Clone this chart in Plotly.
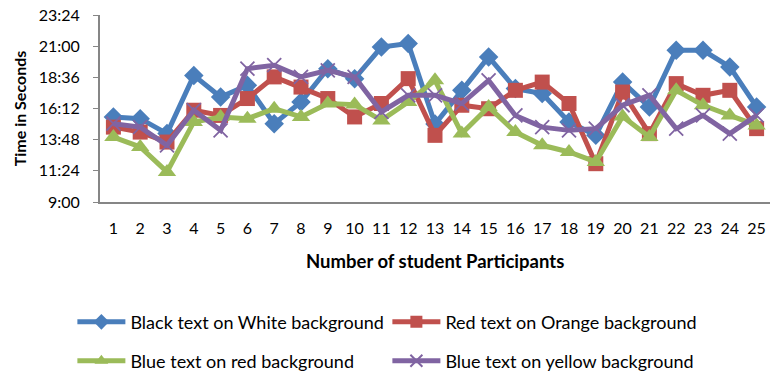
import plotly.graph_objects as go

# Reading times per participant, stored as "minutes:seconds"
participants = list(range(1, 26))

black_on_white = ["15:33", "15:25", "14:16", "18:45", "17:05", "17:59", "15:02", "16:42", "19:16", "18:30",
                  "20:56", "21:12", "15:00", "17:36", "20:10", "17:44", "17:21", "15:10", "14:08", "18:14",
                  "16:19", "20:41", "20:41", "19:24", "16:19"]
red_on_orange = ["14:46", "14:23", "13:37", "16:04", "15:40", "16:58", "18:38", "17:51", "16:58", "15:33",
                 "16:35", "18:30", "14:08", "16:27", "16:11", "17:36", "18:14", "16:35", "11:57", "17:28",
                 "14:16", "18:07", "17:13", "17:36", "14:39"]
blue_on_red = ["14:00", "13:14", "11:19", "15:10", "15:33", "15:25", "16:11", "15:33", "16:35", "16:30",
               "15:17", "16:42", "18:22", "14:16", "16:19", "14:23", "13:22", "12:51", "12:05", "15:35",
               "14:00", "17:36", "16:27", "15:40", "14:54"]
blue_on_yellow = ["15:02", "14:46", "13:22", "16:04", "14:31", "19:16", "19:32", "18:38", "19:08", "18:38",
                  "15:56", "17:13", "17:13", "16:35", "18:22", "15:40", "14:46", "14:31", "14:39", "16:27",
                  "17:13", "14:39", "15:40", "14:16", "15:40"]

series_names = ["Black text on White background", "Red text on Orange background",
                "Blue text on red background", "Blue text on yellow background"]

tick_labels = ["9:00", "11:24", "13:48", "16:12", "18:36", "21:00", "23:24"]


def to_seconds(t):
    m, s = t.split(":")
    return int(m) * 60 + int(s)


tick_vals = [to_seconds(t) for t in tick_labels]

styles = [
    dict(color="#4A7EBB", symbol="diamond", size=15, legend="legend"),
    dict(color="#C0504D", symbol="square", size=15, legend="legend"),
    dict(color="#9BBB59", symbol="triangle-up", size=16, legend="legend2"),
    dict(color="#8064A2", symbol="x-thin-open", size=14, legend="legend2"),
]

fig = go.Figure()
for name, values, st in zip(series_names,
                            [black_on_white, red_on_orange, blue_on_red, blue_on_yellow],
                            styles):
    marker = dict(symbol=st["symbol"], size=st["size"], color=st["color"])
    if st["symbol"] == "x-thin-open":
        marker["line"] = dict(color="#8F78B5", width=1.8)
    fig.add_trace(go.Scatter(
        x=participants,
        y=[to_seconds(v) for v in values],
        mode="lines+markers",
        name=name,
        line=dict(color=st["color"], width=5),
        marker=marker,
        legend=st["legend"],
    ))

font_family = "Lato, Liberation Sans, sans-serif"
legend_common = dict(
    orientation="h",
    xref="container",
    yref="container",
    xanchor="left",
    yanchor="middle",
    x=0.094,
    entrywidth=252,
    entrywidthmode="pixels",
    itemwidth=48,
    itemsizing="constant",
    font=dict(family=font_family, size=18, color="#000000"),
    bgcolor="rgba(0,0,0,0)",
    itemclick=False,
)

fig.update_layout(
    width=770,
    height=375,
    margin=dict(l=100, r=0, t=15, b=173, autoexpand=False),
    paper_bgcolor="white",
    plot_bgcolor="white",
    font=dict(family=font_family, size=15, color="#000000"),
    showlegend=True,
    legend=dict(**legend_common, y=0.141),
    legend2=dict(**legend_common, y=0.037),
    xaxis=dict(
        range=[0.5, 25.5],
        automargin=False,
        tickmode="array",
        tickvals=participants,
        ticktext=[str(p) for p in participants],
        showgrid=False,
        zeroline=False,
        showline=True,
        linecolor="#868686",
        linewidth=2,
        ticks="",
        ticklabelstandoff=11,
        tickfont=dict(size=16),
    ),
    yaxis=dict(
        range=[tick_vals[0], tick_vals[-1]],
        automargin=False,
        tickmode="array",
        tickvals=tick_vals,
        ticktext=tick_labels,
        showgrid=False,
        zeroline=False,
        showline=True,
        linecolor="#868686",
        linewidth=2,
        ticks="outside",
        ticklen=5,
        tickcolor="#868686",
        ticklabelstandoff=10,
        tickfont=dict(size=16),
        title=dict(text="<b>Time in Seconds</b>", font=dict(size=16), standoff=8),
    ),
    annotations=[dict(
        text="<b>Number of student Participants</b>",
        xref="paper", yref="paper", x=0.5, y=-0.315,
        xanchor="center", yanchor="middle", showarrow=False,
        font=dict(family=font_family, size=18.5, color="#000000"),
    )],
)

fig.write_html("out.html")
